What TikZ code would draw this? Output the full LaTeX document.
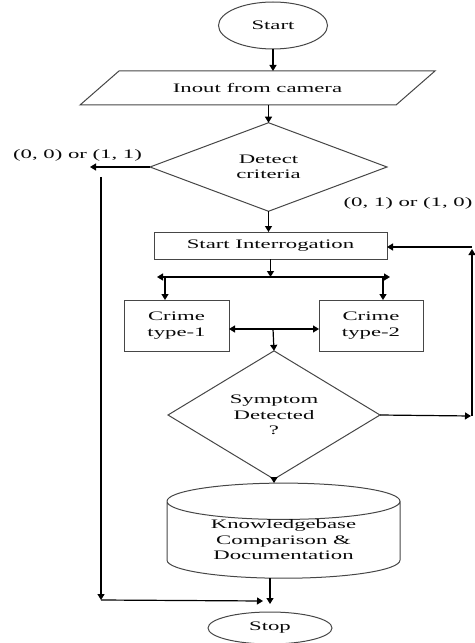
\documentclass[tikz,border=0pt]{standalone}
\usepackage{fontspec}
\setmainfont{Liberation Serif}[FakeStretch=1.75]
\usepackage{tikz}
\usetikzlibrary{shapes.geometric,arrows.meta}
\definecolor{pdfcolor1}{RGB}{70,70,70}
\definecolor{pdfcolor2}{RGB}{10,10,10}

\begin{document}
\begin{tikzpicture}[x=1bp,y=-1bp,inner sep=0pt,outer sep=0pt,
  every node/.style={font=\fontsize{13bp}{15.5bp}\selectfont,text=pdfcolor2,align=center},
  shp/.style={draw=pdfcolor1,line width=1bp},
  arr/.style={draw=black,line width=1.2bp,-{Triangle[length=6bp,width=7bp]}},
  dbl/.style={draw=black,line width=1.2bp,{Triangle[length=6bp,width=7bp]}-{Triangle[length=6bp,width=7bp]}}]
  \useasboundingbox (0,0) rectangle (475,643);
  % flow boxes
  \node[shp,ellipse,minimum width=109bp,minimum height=47bp] (start) at (273,25.5) {Start};
  \node[shp,trapezium,trapezium left angle=21.3,trapezium right angle=158.7,trapezium stretches=true,minimum width=355bp,minimum height=34bp] (input) at (257.5,88) {Inout from camera};
  \node[shp,diamond,minimum width=237bp,minimum height=76bp] (detect) at (268.5,167) {Detect\\criteria};
  \node[shp,rectangle,minimum width=233bp,minimum height=27bp] (interrog) at (270.5,245.5) {Start Interrogation};
  \node[shp,minimum width=105bp,minimum height=51bp] (crime1) at (176.5,325.5) {Crime\\type-1};
  \node[shp,minimum width=104bp,minimum height=51bp] (crime2) at (371,325.5) {Crime\\type-2};
  \node[shp,diamond,minimum width=212bp,minimum height=96bp] (symptom) at (274,415) {Symptom\\Detected\\?};
  \node[shp,cylinder,shape border rotate=90,aspect=0.25,minimum width=233bp,minimum height=80bp] (kb) at (283.5,540) {Knowledgebase\\Comparison \&\\Documentation};
  \node[shp,ellipse,minimum width=124bp,minimum height=32bp] (stop) at (270,628) {Stop};
  % branch labels
  \node (lbl00) at (77.5,155) {(0, 0) or (1, 1)};
  \node (lbl01) at (408,203) {(0, 1) or (1, 0)};
  % free ends
  \coordinate (l1) at (90,167);
  \coordinate (l2) at (101,177);
  \coordinate (l3) at (101,600);
  \coordinate (l4) at (263,601);
  \coordinate (sl) at (157,277);
  \coordinate (sr) at (390,277);
  \coordinate (c1) at (165,277);
  \coordinate (c2) at (383,277);
  \coordinate (j) at (273,329);
  \coordinate (r1) at (471,416);
  \coordinate (r2) at (472,416);
  \coordinate (r3) at (472,249);
  \coordinate (r4) at (472,247);
  \coordinate (b) at (270,604);
  % connectors
  \draw[arr] (start.south) -- (start.south |- input.north);
  \draw[arr] (detect.north |- input.south) -- (detect.north);
  \draw[arr] (detect.west) -- (l1);
  \draw[arr] (l2) -- (l3);
  \draw[arr] (l3) -- (l4);
  \draw[arr] (detect.south) -- (detect.south |- interrog.north);
  \draw[arr] (interrog.south) -- (interrog.south |- sl);
  \draw[dbl] (sl) -- (sr);
  \draw[arr] (c1) -- (c1 |- crime1.north);
  \draw[arr] (c2) -- (c2 |- crime2.north);
  \draw[dbl] (crime1.east |- j) -- (crime2.west |- j);
  \draw[arr] (j) -- (symptom.north);
  \draw[arr] (symptom.east) -- (r1);
  \draw[arr] (r2) -- (r3);
  \draw[arr] (r4) -- (interrog.east |- r4);
  \draw[arr] (symptom.south) -- (symptom.south |- kb.north);
  \draw[arr] (b |- kb.south) -- (b);
\end{tikzpicture}
\end{document}
